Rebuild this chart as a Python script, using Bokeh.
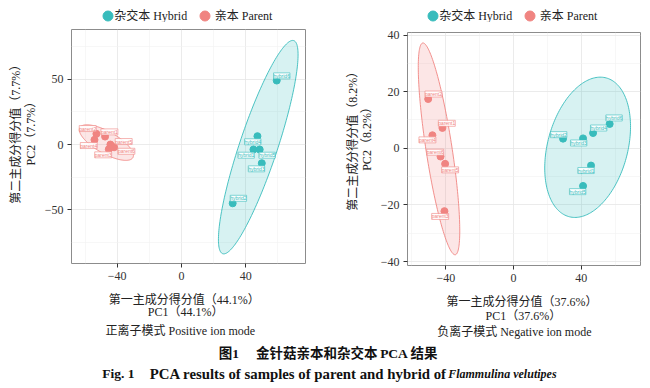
import numpy as np
from bokeh.plotting import figure
from bokeh.models import (ColumnDataSource, LabelSet, Label, Legend, LegendItem,
                          FixedTicker, Range1d)
from bokeh.layouts import row, column
from bokeh.core.properties import value
from bokeh.embed import file_html
from bokeh.resources import INLINE

# ---------------- data ----------------
HYBRID_NAMES = ["hybrid1", "hybrid2", "hybrid3", "hybrid4", "hybrid5", "hybrid6"]
PARENT_NAMES = ["parent1", "parent2", "parent3", "parent4", "parent5", "parent6"]

# Positive ion mode
POS_HYBRID_PC1 = [44.8, 31.9, 50.0, 47.3, 48.7, 59.3]
POS_HYBRID_PC2 = [-3.8, -45.0, -14.3, 6.4, -3.8, 49.0]
POS_PARENT_PC1 = [-47.5, -52.9, -45.2, -54.1, -44.2, -41.9]
POS_PARENT_PC2 = [6.1, 8.2, -3.6, 3.6, 0.0, -2.1]

# Negative ion mode
NEG_HYBRID_PC1 = [45.7, 29.2, 41.0, 46.9, 41.0, 56.7]
NEG_HYBRID_PC2 = [-6.1, 3.4, 3.5, 5.4, -13.3, 8.6]
NEG_PARENT_PC1 = [-42.0, -50.4, -40.8, -47.9, -40.4, -43.1]
NEG_PARENT_PC2 = [7.2, 17.4, -22.2, 4.6, -5.5, -2.9]

# confidence ellipses: centre, half-axis vector a, half-axis vector b (data units)
POS_HYBRID_ELLIPSE = [(47.8, -2.0), (22.1, 81.6), (11.2, -4.6)]
POS_PARENT_ELLIPSE = [(-46.7, 1.5), (16.5, -11.5), (-3.4, -7.3)]
NEG_HYBRID_ELLIPSE = [(43.7, 0.35), (11.0, 24.5), (22.8, -3.7)]
NEG_PARENT_ELLIPSE = [(-44.0, -0.2), (9.6, -37.4), (7.6, 0.7)]

# axis ticks
POS_X_TICKS = [-40, 0, 40]
POS_X_TICK_LABELS = ["\u221240", "0", "40"]
POS_Y_TICKS = [-50, 0, 50]
POS_Y_TICK_LABELS = ["\u221250", "0", "50"]
NEG_X_TICKS = [-40, 0, 40]
NEG_X_TICK_LABELS = ["\u221240", "0", "40"]
NEG_Y_TICKS = [-40, -20, 0, 20, 40]
NEG_Y_TICK_LABELS = ["\u221240", "\u221220", "0", "20", "40"]

POS_VAR = ["44.1%", "7.7%"]
NEG_VAR = ["37.6%", "8.2%"]

LEGEND_LABELS = ["杂交本 Hybrid", "亲本 Parent"]
MODE_LABELS = ["正离子模式 Positive ion mode", "负离子模式 Negative ion mode"]
CAPTION_CN = "图1\u3000 金针菇亲本和杂交本\u2009PCA\u2009结果"
CAPTION_EN_NUM = "Fig. 1"
CAPTION_EN = "PCA results of samples of parent and hybrid of"
CAPTION_EN_ITALIC = "Flammulina velutipes"

# ---------------- styles ----------------
HYB = "#38BCBC"
PAR = "#F08481"
SERIF = "'Liberation Serif', 'Noto Sans CJK SC', serif"
TXT = "#222222"

# point-label offsets in screen px (right, up)
POS_HYB_OFF = [(-7.3, -5.7), (5.7, 5.0), (-5.3, -5.6), (-4.7, -5.6), (7.4, -5.7), (5.0, 4.7)]
POS_PAR_OFF = [(4.3, 4.7), (-8.7, 5.3), (-5.6, -5.6), (-5.7, -5.7), (13.3, 3.0), (12.3, -4.0)]
NEG_HYB_OFF = [(-5.0, -5.0), (-4.4, 4.0), (-4.4, -4.6), (5.6, 5.0), (-5.4, -5.7), (4.4, 6.0)]
NEG_PAR_OFF = [(4.4, 4.6), (5.3, 5.0), (-4.3, -5.3), (-5.0, -4.6), (5.0, -6.0), (-5.3, 4.3)]


def ellipse_xy(ell, n=200):
    (cx, cy), (ax, ay), (bx, by) = ell
    t = np.linspace(0, 2 * np.pi, n)
    return cx + ax * np.cos(t) + bx * np.sin(t), cy + ay * np.cos(t) + by * np.sin(t)


def text_fig(w, h):
    f = figure(width=w, height=h, x_range=Range1d(0, w), y_range=Range1d(0, h),
               output_backend="svg", toolbar_location=None, min_border=0)
    f.axis.visible = False
    f.grid.visible = False
    f.outline_line_color = None
    f.background_fill_color = "white"
    f.border_fill_color = "white"
    return f


LAB_KW = dict(x_units="screen", y_units="screen", text_font=SERIF,
              text_font_size="12px", text_color=TXT,
              text_align="left", text_baseline="middle")


def make_plot(width, height, mb_left, mb_right, mb_top, mb_bottom, xr, yr,
              xt, xtl, yt, ytl, x_minor, y_minor,
              hx, hy, px, py, hoff, poff, hell, pell):
    p = figure(width=width, height=height, x_range=Range1d(*xr), y_range=Range1d(*yr),
               output_backend="svg", toolbar_location=None,
               min_border_left=mb_left, min_border_right=mb_right,
               min_border_top=mb_top, min_border_bottom=mb_bottom)
    p.background_fill_color = "white"
    p.border_fill_color = "white"
    p.outline_line_color = "#8C8C8C"
    p.outline_line_width = 1

    p.xaxis.ticker = FixedTicker(ticks=xt, minor_ticks=x_minor)
    p.yaxis.ticker = FixedTicker(ticks=yt, minor_ticks=y_minor)
    p.xaxis.major_label_overrides = dict(zip(xt, xtl))
    p.yaxis.major_label_overrides = dict(zip(yt, ytl))
    for ax in (p.xaxis, p.yaxis):
        ax.axis_line_color = None
        ax.minor_tick_line_color = None
        ax.major_tick_line_color = "#333333"
        ax.major_tick_in = 0
        ax.major_tick_out = 4
        ax.major_label_standoff = 4
        ax.major_label_text_font = SERIF
        ax.major_label_text_font_size = "12px"
        ax.major_label_text_color = "#333333"
    p.grid.grid_line_color = "#E6E6E6"
    p.grid.grid_line_width = 0.8
    p.grid.minor_grid_line_color = "#F2F2F2"
    p.grid.minor_grid_line_width = 0.6

    ex, ey = ellipse_xy(hell)
    p.patch(ex, ey, fill_color=HYB, fill_alpha=0.2, line_color=HYB, line_width=0.9)
    ex, ey = ellipse_xy(pell)
    p.patch(ex, ey, fill_color=PAR, fill_alpha=0.2, line_color=PAR, line_width=0.9)

    hsrc = ColumnDataSource(dict(x=hx, y=hy, name=HYBRID_NAMES,
                                 dx=[o[0] for o in hoff], dy=[o[1] for o in hoff]))
    psrc = ColumnDataSource(dict(x=px, y=py, name=PARENT_NAMES,
                                 dx=[o[0] for o in poff], dy=[o[1] for o in poff]))
    p.scatter("x", "y", source=hsrc, size=7, color=HYB)
    p.scatter("x", "y", source=psrc, size=7, color=PAR)

    for src, col in ((hsrc, HYB), (psrc, PAR)):
        p.add_layout(LabelSet(x="x", y="y", text="name", source=src,
                              x_offset="dx", y_offset="dy",
                              text_align="center", text_baseline="middle",
                              text_font=value("Liberation Sans"), text_font_size="5px",
                              text_color=col, background_fill_color="white",
                              background_fill_alpha=0.9,
                              border_line_color=col, border_line_width=0.6))
    return p


def legend_strip(w, h, hx, hy, px, py, marker_locs, text_locs):
    f = text_fig(w, h)
    # the series are drawn on a range that lies outside the strip; only legend glyphs show
    f.extra_y_ranges = {"hidden": Range1d(1000, 1001)}
    rh = f.scatter(hx, hy, size=7, color=HYB, y_range_name="hidden")
    rp = f.scatter(px, py, size=7, color=PAR, y_range_name="hidden")
    for r, loc in ((rh, marker_locs[0]), (rp, marker_locs[1])):
        f.add_layout(Legend(items=[LegendItem(label=" ", renderers=[r])],
                            orientation="horizontal", location=loc,
                            glyph_width=25, glyph_height=25, label_standoff=0,
                            padding=0, margin=0, spacing=0,
                            label_text_font_size="6px", label_height=6, label_width=1,
                            background_fill_alpha=0, border_line_alpha=0))
    for lab, (tx, ty) in zip(LEGEND_LABELS, text_locs):
        f.add_layout(Label(x=tx, y=ty, text=lab, **LAB_KW))
    return f


def ytitle_strip(w, h, var, pos):
    f = text_fig(w, h)
    (x1, y1), (x2, y2) = pos
    f.add_layout(Label(x=x1, y=y1, angle=np.pi / 2,
                       text="第二主成分得分值（" + var[1] + "）", **LAB_KW))
    f.add_layout(Label(x=x2, y=y2, angle=np.pi / 2,
                       text="PC2（" + var[1] + "）", **LAB_KW))
    return f


def xtitle_strip(w, h, var, mode, pos):
    f = text_fig(w, h)
    (x1, y1), (x2, y2), (x3, y3) = pos
    f.add_layout(Label(x=x1, y=y1, text="第一主成分得分值（" + var[0] + "）", **LAB_KW))
    f.add_layout(Label(x=x2, y=y2, text="PC1（" + var[0] + "）", **LAB_KW))
    f.add_layout(Label(x=x3, y=y3, text=mode, **LAB_KW))
    return f


# ---------- left panel: positive ion mode ----------
p1 = make_plot(285, 268, 31, 20, 7, 27, (-68.4, 77.2), (-91.1, 88.1),
               POS_X_TICKS, POS_X_TICK_LABELS, POS_Y_TICKS, POS_Y_TICK_LABELS,
               [-60, -20, 20, 60], [-75, -25, 25, 75],
               POS_HYBRID_PC1, POS_HYBRID_PC2, POS_PARENT_PC1, POS_PARENT_PC2,
               POS_HYB_OFF, POS_PAR_OFF, POS_HYBRID_ELLIPSE, POS_PARENT_ELLIPSE)
a1 = legend_strip(325, 22, POS_HYBRID_PC1, POS_HYBRID_PC2, POS_PARENT_PC1, POS_PARENT_PC2,
                  [(94.5, -5.8), (191.8, -5.8)], [(113.7, 6.7), (214.3, 6.7)])
l1 = ytitle_strip(40, 268, POS_VAR, [(15, 59.7), (30, 98)])
b1 = xtitle_strip(325, 50, POS_VAR, MODE_LABELS[0],
                  [(108.3, 40.7), (147.3, 28.3), (105, 9.3)])
panel1 = column(a1, row(l1, p1), b1)

# ---------- right panel: negative ion mode ----------
p2 = make_plot(275, 268, 32, 10, 10, 25, (-62.6, 74.9), (-41.4, 40.9),
               NEG_X_TICKS, NEG_X_TICK_LABELS, NEG_Y_TICKS, NEG_Y_TICK_LABELS,
               [-60, -20, 20, 60], [-30, -10, 10, 30],
               NEG_HYBRID_PC1, NEG_HYBRID_PC2, NEG_PARENT_PC1, NEG_PARENT_PC2,
               NEG_HYB_OFF, NEG_PAR_OFF, NEG_HYBRID_ELLIPSE, NEG_PARENT_ELLIPSE)
a2 = legend_strip(325, 22, NEG_HYBRID_PC1, NEG_HYBRID_PC2, NEG_PARENT_PC1, NEG_PARENT_PC2,
                  [(94.5, -5.8), (191.8, -5.8)], [(113.7, 6.7), (214.3, 6.7)])
l2 = ytitle_strip(50, 268, NEG_VAR, [(27.3, 54.7), (41.7, 94.7)])
b2 = xtitle_strip(325, 50, NEG_VAR, MODE_LABELS[1],
                  [(121, 38.3), (160, 25), (111.7, 8.3)])
panel2 = column(a2, row(l2, p2), b2)

# ---------- figure caption ----------
cap = text_fig(650, 44)
cap_kw = dict(x_units="screen", y_units="screen", text_font=SERIF,
              text_color="#111111", text_font_style="bold",
              text_baseline="middle", text_align="left")
cap.add_layout(Label(x=218.3, y=31, text=CAPTION_CN, text_font_size="13.5px", **cap_kw))
cap.add_layout(Label(x=101.7, y=11, text=CAPTION_EN_NUM, text_font_size="13.5px", **cap_kw))
cap.add_layout(Label(x=149.3, y=11, text=CAPTION_EN, text_font_size="14.8px", **cap_kw))
cap_kw["text_font_style"] = "bold italic"
cap.add_layout(Label(x=447.7, y=11, text=CAPTION_EN_ITALIC, text_font_size="12px", **cap_kw))

layout = column(row(panel1, panel2), cap)
open("out.html", "w").write(file_html(layout, INLINE))
